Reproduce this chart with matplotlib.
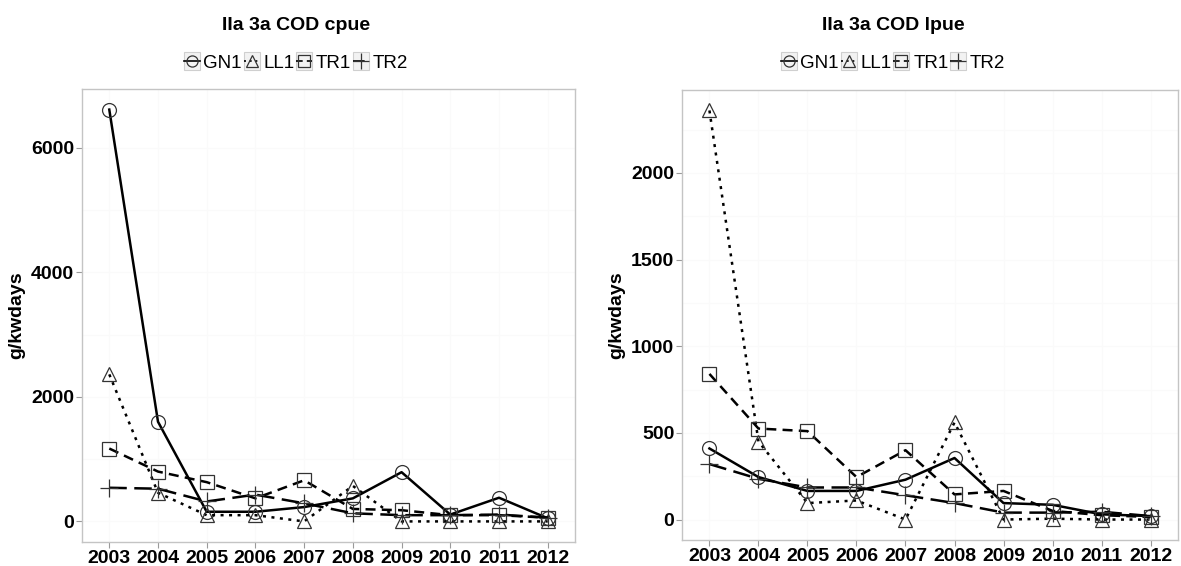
import numpy as np
import matplotlib
matplotlib.use("Agg")
import matplotlib.pyplot as plt
from matplotlib.legend_handler import HandlerLine2D
from matplotlib.patches import Rectangle
from matplotlib.ticker import MultipleLocator

plt.rcParams['font.family'] = ['Liberation Sans', 'DejaVu Sans']

# Data
years = [2003, 2004, 2005, 2006, 2007, 2008, 2009, 2010, 2011, 2012]
series = ["GN1", "LL1", "TR1", "TR2"]

# cpue (left panel)
cpue_gn1 = [6610, 1600, 155, 155, 230, 370, 790, 110, 380, 50]
cpue_ll1 = [2360, 460, 100, 100, 0, 570, 0, 0, 0, 0]
cpue_tr1 = [1170, 800, 630, 370, 660, 200, 180, 100, 100, 60]
cpue_tr2 = [540, 525, 320, 430, 290, 130, 100, 100, 110, 60]

# lpue (right panel)
lpue_gn1 = [410, 245, 165, 165, 230, 355, 95, 85, 30, 20]
lpue_ll1 = [2360, 450, 95, 110, 0, 560, 0, 5, 0, 0]
lpue_tr1 = [840, 525, 510, 245, 400, 145, 165, 50, 25, 15]
lpue_tr2 = [320, 235, 185, 185, 140, 95, 40, 40, 45, 20]

titles = ["IIa 3a COD cpue", "IIa 3a COD lpue"]
ylabel = "g/kwdays"

# styles per series
markers = {"GN1": "o", "LL1": "^", "TR1": "s", "TR2": "+"}
dashes = {"GN1": None, "LL1": (1.2, 2.2), "TR1": (4, 2.5), "TR2": (7, 3)}


class BoxedHandler(HandlerLine2D):
    # legend key with grey box, like ggplot keys
    def create_artists(self, legend, orig_handle, xdescent, ydescent,
                       width, height, fontsize, trans):
        arts = super().create_artists(legend, orig_handle, xdescent, ydescent,
                                      width, height, fontsize, trans)
        for a in arts:
            a.set_markersize(8 if orig_handle.get_marker() != "+" else 11)
            a.set_linewidth(1.2)
        box = Rectangle((-xdescent, -ydescent - 2), width, height + 4,
                        fc="#f2f2f2", ec="#cfcfcf", lw=0.8, transform=trans)
        return [box] + list(arts)


def draw_panel(ax, data, major, minor, title, xc):
    for name, vals in zip(series, data):
        mk = markers[name]
        line, = ax.plot(years, vals, color="black", lw=1.8,
                        marker=mk, markersize=10 if mk != "+" else 13,
                        markerfacecolor="none", markeredgecolor="#333333",
                        markeredgewidth=0.9, label=name)
        if dashes[name] is not None:
            line.set_dashes(dashes[name])
    top = max(max(v) for v in data)
    pad = top * 0.05
    ax.set_ylim(-pad, top + pad)
    ax.set_xlim(years[0] - 0.56, years[-1] + 0.56)
    ax.set_xticks(years)
    ax.yaxis.set_major_locator(MultipleLocator(major))
    ax.yaxis.set_minor_locator(MultipleLocator(minor))
    ax.grid(True, which="both", color="#fafafa", lw=1.0)
    ax.set_axisbelow(True)
    for s in ax.spines.values():
        s.set_color("#c4c4c4")
        s.set_linewidth(1.0)
    ax.tick_params(axis="both", which="major", length=4, color="#9a9a9a",
                   labelsize=14, pad=1.5)
    ax.tick_params(axis="y", which="minor", length=0)
    for lab in ax.get_xticklabels() + ax.get_yticklabels():
        lab.set_fontweight("bold")
    ax.set_ylabel(ylabel, fontsize=14, fontweight="bold", labelpad=4)
    fig.text(xc, 1 - 25 / 566, title, ha="center", va="center",
             fontsize=14, fontweight="bold")
    ax.legend(loc="center", bbox_to_anchor=(xc, 1 - 63 / 566),
              bbox_transform=fig.transFigure, ncol=4, frameon=False,
              fontsize=13.5, handlelength=0.85, handletextpad=0.2,
              columnspacing=0.1, numpoints=1, borderpad=0,
              handler_map={plt.Line2D: BoxedHandler(numpoints=1)})


fig = plt.figure(figsize=(11.81, 5.66), dpi=100)
ax1 = fig.add_axes([82 / 1181, 1 - 542 / 566, (575 - 82) / 1181, (542 - 89) / 566])
ax2 = fig.add_axes([682 / 1181, 1 - 540 / 566, (1178 - 682) / 1181, (540 - 90) / 566])

draw_panel(ax1, [cpue_gn1, cpue_ll1, cpue_tr1, cpue_tr2], 2000, 1000, titles[0], 296 / 1181)
draw_panel(ax2, [lpue_gn1, lpue_ll1, lpue_tr1, lpue_tr2], 500, 250, titles[1], 893 / 1181)

fig.savefig("out.png", dpi=100)
